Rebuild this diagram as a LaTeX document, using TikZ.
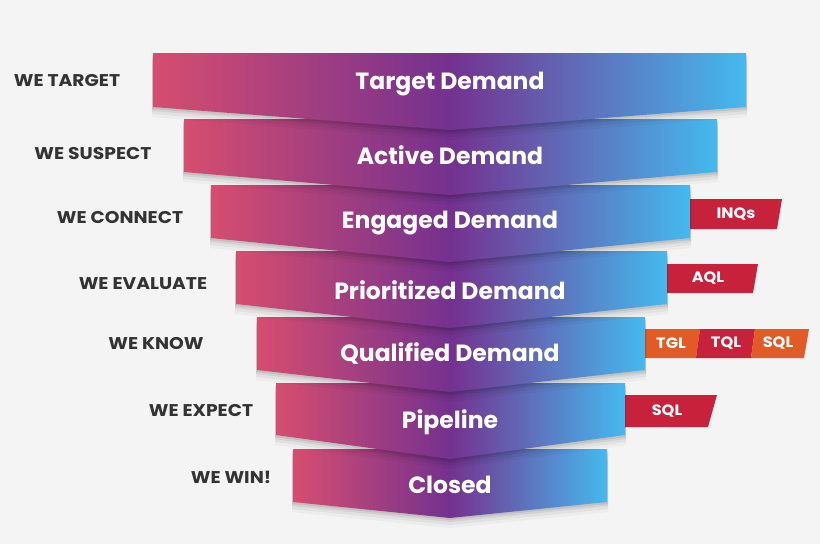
\documentclass[tikz,border=0pt]{standalone}
\usepackage{fontspec}
\setmainfont{Poppins}
\newfontfamily\labelfont{Poppins}[FakeStretch=1.1]
\newfontfamily\tagfont{Poppins}[FakeStretch=1.08]
\definecolor{bgc}{HTML}{F4F4F4}
\definecolor{cpink}{HTML}{D64D6F}
\definecolor{cpurple}{HTML}{74318F}
\definecolor{cblue}{HTML}{45B9EE}
\definecolor{ccrimson}{HTML}{C8213B}
\definecolor{corange}{HTML}{E25A26}
\definecolor{cdark}{HTML}{333333}
\pgfdeclarehorizontalshading{funnelshade}{100bp}{color(0bp)=(cpink); color(25bp)=(cpink); color(50bp)=(cpurple); color(75bp)=(cblue); color(100bp)=(cblue)}
\tikzset{
  bandtext/.style={text=white, font=\fontsize{23.5}{26}\selectfont\bfseries, inner sep=0pt, anchor=base},
  sidelabel/.style={text=cdark, font=\labelfont\fontsize{17}{20}\selectfont\bfseries, inner sep=0pt},
  tagtext/.style={text=white, font=\tagfont\fontsize{15}{17}\selectfont\bfseries, inner sep=0pt},
  tagred/.style={fill=ccrimson},
  tagorange/.style={fill=corange},
}
% #1 name, #2 left, #3 right, #4 top, #5 side bottom, #6 tip, #7 text baseline, #8 text
\newcommand\funnelband[8]{%
  \foreach \s/\o in {10/0.03,7/0.045,4/0.065,2/0.08}{%
    \fill[black,opacity=\o] (#2-1,#4+\s) -- (#3+1,#4+\s) -- (#3+1,#5+\s) -- (450,#6+\s) -- (#2-1,#5+\s) -- cycle;
  }
  \path[shading=funnelshade] (#2,#4) -- (#3,#4) -- (#3,#5) -- (450,#6) -- (#2,#5) -- cycle;
  \node[bandtext] (#1) at (450,#7) {#8};
}
\begin{document}
\begin{tikzpicture}[x=1pt,y=-1pt]
\fill[bgc] (0,0) rectangle (820,544);
\useasboundingbox (0,0) rectangle (820,544);

% tags (behind the bands)
\fill[tagred] (684,199) -- (782,199) -- (777,229) -- (684,229) -- cycle;
\node[tagtext] (inq) at (736,214) {INQs};
\fill[tagred] (661,264) -- (758,264) -- (753,293) -- (661,293) -- cycle;
\node[tagtext] (aql) at (708,278.5) {AQL};
\fill[tagorange] (638,329) -- (700,329) -- (696,358) -- (638,358) -- cycle;
\fill[tagred] (700,329) -- (755,329) -- (751,358) -- (696,358) -- cycle;
\fill[tagorange] (755,329) -- (809,329) -- (804,358) -- (751,358) -- cycle;
\node[tagtext] (tgl) at (671,343.5) {TGL};
\node[tagtext] (tql) at (726,343.5) {TQL};
\node[tagtext] (sqla) at (778,343.5) {SQL};
\fill[tagred] (619,395) -- (717,395) -- (708,427) -- (619,427) -- cycle;
\node[tagtext] (sqlb) at (667,411.5) {SQL};

% bands, bottom to top so each tip overlaps the band below
\funnelband{closed}{293}{607}{449}{502}{518}{493}{Closed}
\funnelband{pipe}{276}{625}{383}{435}{459}{428}{Pipeline}
\funnelband{qual}{257}{645}{317}{370}{392}{361}{Qualified Demand}
\funnelband{prio}{236}{667}{251}{304}{328}{299}{Prioritized Demand}
\funnelband{eng}{211}{690}{185}{238}{262}{228}{Engaged Demand}
\funnelband{act}{184}{717}{119}{172}{195}{164}{Active Demand}
\funnelband{targ}{153}{746}{53}{107}{130}{89}{Target Demand}

% left labels
\node[sidelabel] (l1) at (67,81) {WE TARGET};
\node[sidelabel] (l2) at (93,154) {WE SUSPECT};
\node[sidelabel] (l3) at (120,218) {WE CONNECT};
\node[sidelabel] (l4) at (143,284) {WE EVALUATE};
\node[sidelabel] (l5) at (156,344) {WE KNOW};
\node[sidelabel] (l6) at (201,411) {WE EXPECT};
\node[sidelabel] (l7) at (231,477) {WE WIN!};
\end{tikzpicture}
\end{document}
